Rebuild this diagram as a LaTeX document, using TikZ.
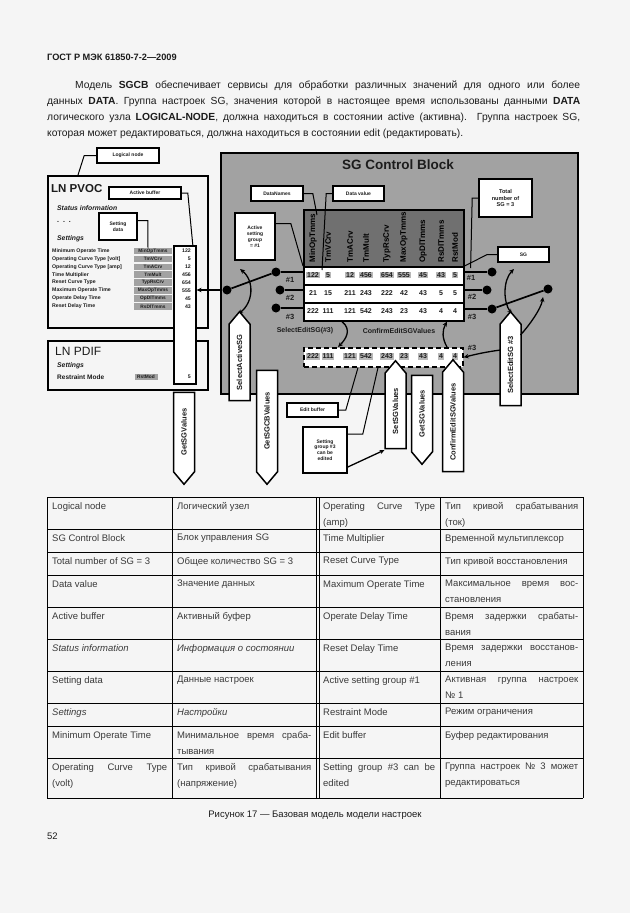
\documentclass[tikz,border=0pt]{standalone}
\usepackage{fontspec}
\setmainfont{Liberation Sans}
\setsansfont{Liberation Sans}
\usetikzlibrary{positioning, arrows.meta, calc, shapes.symbols}
\definecolor{clrpage}{HTML}{F5F5F5}
\definecolor{clrtext}{HTML}{1C1C1C}
\definecolor{clrtable}{HTML}{3A3A3A}
\definecolor{clrblock}{HTML}{A2A2A2}
\definecolor{clrheader}{HTML}{707070}
\definecolor{clrcell}{HTML}{B8B8B8}
\definecolor{clrborder}{HTML}{000000}

\begin{document}
\begin{tikzpicture}[
    x=1pt, y=-1pt,
    >=Stealth,
    every node/.style={font=\sffamily, text=clrtext},
    frame/.style={draw=clrborder, line width=1.5pt, minimum width=160pt, anchor=north west, inner sep=0},
    callout/.style={draw=clrborder, fill=white, line width=1.6pt, inner sep=0.5pt, align=center,
                    font=\sffamily\bfseries\fontsize{5}{5.8}\selectfont},
    leader/.style={draw=clrborder, line width=1pt},
    wire/.style={draw=clrborder, line width=1.7pt},
    flow/.style={->, draw=clrborder, line width=1.3pt, >={Stealth[length=5pt, width=4.5pt]}},
    twoway/.style={flow, <->},
    pivot/.style={circle, fill=clrborder, inner sep=0, minimum size=9pt},
    svc/.style={shape=signal, draw=clrborder, fill=white, line width=1.5pt, rotate=90,
                minimum height=21pt, inner sep=1pt, signal pointer angle=80,
                font=\sffamily\bfseries\fontsize{7.5}{8}\selectfont},
    svcup/.style={svc, signal to=east},
    svcdown/.style={svc, signal to=west},
    sgrow/.style={draw=clrborder, fill=white, line width=1.6pt, minimum width=160pt,
                  minimum height=18pt, inner sep=0, anchor=north west},
    val/.style={inner sep=1pt, font=\sffamily\bfseries\fontsize{7}{8}\selectfont},
    valact/.style={val, fill=clrcell},
    dname/.style={rotate=90, anchor=west, inner sep=0.5pt, text=black,
                  font=\sffamily\bfseries\fontsize{8}{9}\selectfont},
    sgnum/.style={inner sep=0, font=\sffamily\bfseries\fontsize{7.5}{8}\selectfont},
    cmdlabel/.style={inner sep=0, font=\sffamily\bfseries\fontsize{7}{8}\selectfont},
    pvlbl/.style={anchor=west, inner sep=0, font=\sffamily\bfseries\fontsize{5.2}{6}\selectfont},
    pvdn/.style={fill=clrblock, minimum width=38pt, minimum height=6.6pt, inner sep=0,
                 font=\sffamily\bfseries\fontsize{4.8}{5}\selectfont},
    pvval/.style={anchor=east, inner sep=0, font=\sffamily\bfseries\fontsize{5.2}{6}\selectfont},
    pvhead/.style={anchor=west, inner sep=0, font=\sffamily\bfseries\itshape\fontsize{6.8}{8}\selectfont},
    tabline/.style={draw=clrborder, line width=0.7pt},
    cell/.style={anchor=north west, inner sep=0, align=justify, text=clrtable,
                 font=\sffamily\fontsize{9.5}{16}\selectfont},
]
\fill[clrpage] (0,0) rectangle (630,913);
\useasboundingbox (0,0) rectangle (630,913);

% page head and text
\node[anchor=west, inner sep=0, font=\sffamily\bfseries\fontsize{9.2}{11}\selectfont] (page_head) at (47,57) {ГОСТ Р МЭК 61850-7-2—2009};
\node[anchor=north west, inner sep=0, align=left, font=\sffamily\fontsize{10.3}{16}\selectfont] (page_text) at (47,81) {%
\hbox to 533pt{\hspace*{28pt}Модель \textbf{SGCB} обеспечивает сервисы для обработки различных значений для одного или более}\\
\hbox to 533pt{данных \textbf{DATA}. Группа настроек SG, значения которой в настоящее время использованы данными \textbf{DATA}}\\
\hbox to 533pt{логического узла \textbf{LOGICAL-NODE}, должна находиться в состоянии active (активна). Группа настроек SG,}\\
которая может редактироваться, должна находиться в состоянии edit (редактировать).};

% logical nodes
\node[frame, minimum height=152pt] (ln_pvoc) at (47,175) {};
\node[frame, minimum height=49pt] (ln_pdif) at (47,340) {};
\node[anchor=west, inner sep=0, font=\sffamily\bfseries\fontsize{11.5}{12}\selectfont] (pvoc_title) at (51,189) {LN PVOC};
\node[pvhead] (pvoc_status) at (57,208) {Status information};
\node[pvhead, font=\sffamily\bfseries\fontsize{7}{8}\selectfont] (pvoc_dots) at (57,222) {.\ \ .\ \ .};
\node[pvhead] (pvoc_settings) at (57,239) {Settings};
\node[draw=clrborder, fill=white, line width=1.6pt, minimum width=22pt, minimum height=138pt,
      anchor=north west, inner sep=0] (buf_active) at (173,245) {};
\foreach \lbl/\dn/\val [count=\i from 0] in {Minimum Operate Time/MinOpTmms/122,
    Operating Curve Type [volt]/TmVCrv/5, Operating Curve Type [amp]/TmACrv/12,
    Time Multiplier/TmMult/456, Reset Curve Type/TypRsCrv/654, Maximum Operate Time/MaxOpTmms/555,
    Operate Delay Time/OpDlTmms/45, Reset Delay Time/RsDlTmms/43} {
  \node[pvlbl] (pv_lbl_\i) at (52,{251+7.9*\i}) {\lbl};
  \node[pvdn] (pv_dn_\i) at (153,{251+7.9*\i}) {\dn};
  \node[pvval] (pv_val_\i) at (191,{251+7.9*\i}) {\val};
}
\node[anchor=west, inner sep=0, font=\sffamily\fontsize{12}{13}\selectfont] (pdif_title) at (55,351) {LN PDIF};
\node[pvhead] (pdif_settings) at (57,366) {Settings};
\node[pvlbl, font=\sffamily\bfseries\fontsize{6.5}{7}\selectfont] (pdif_lbl) at (57,377) {Restraint Mode};
\node[pvdn, minimum width=23pt] (pdif_dn) at (146,377) {RstMod};
\node[pvval] (pdif_val) at (191,377) {5};

\node[callout, minimum width=62pt, minimum height=15pt] (lbl_logical) at (128,155.5) {Logical node};
\draw[leader] (lbl_logical.west) -- ++(-12,0) -- ([xshift=31pt]ln_pvoc.north west);
\node[callout, minimum width=72pt, minimum height=12pt] (lbl_active) at (145,193) {Active buffer};
\draw[leader] (lbl_active.east) -- ++(6,0) -- ([xshift=8pt]buf_active.north);
\node[callout, minimum width=38pt, minimum height=27pt] (lbl_setdata) at (118,226.5) {Setting\\data};
\draw[leader] ([yshift=6pt]lbl_setdata.east) -- ++(10,0) -- ([xshift=-5pt]pv_dn_0.north);

% SG control block
\node[draw=clrborder, fill=clrblock, line width=1.8pt, minimum width=357pt, minimum height=241pt,
      anchor=north west, inner sep=0] (sgcb) at (220,152) {};
\node[inner sep=0, font=\sffamily\bfseries\fontsize{13.5}{14}\selectfont] (sgcb_title) at (398,165) {SG Control Block};
\node[draw=clrborder, fill=clrheader, line width=1.6pt, minimum width=160pt, minimum height=57pt,
      anchor=north west, inner sep=0] (sg_names) at (303,209) {};
\node[sgrow] (sg_row_1) at (303,266) {};
\node[sgrow] (sg_row_2) at (303,284) {};
\node[sgrow] (sg_row_3) at (303,302) {};
\node[sgrow, dash pattern=on 5pt off 3pt, minimum width=159pt, minimum height=19pt] (sg_edit) at (303,347) {};
\foreach \x/\dn/\va/\vb/\vc [count=\i] in {313/MinOpTmms/122/21/222, 328/TmVCrv/5/15/111,
    350/TmACrv/12/211/121, 366/TmMult/456/243/542, 387/TypRsCrv/654/222/243,
    404/MaxOpTmms/555/42/23, 423/OpDlTmms/45/43/43, 441/RsDlTmms/43/5/4, 455/RstMod/5/5/4} {
  \node[dname] (dn_\i) at (\x,263) {\dn};
  \node[valact] (v1_\i) at (\x,275) {\va};
  \node[val] (v2_\i) at (\x,293) {\vb};
  \node[val] (v3_\i) at (\x,311) {\vc};
  \node[valact] (ve_\i) at (\x,356.5) {\vc};
}
\node[sgnum] (num_l1) at (290,280) {\#1};
\node[sgnum] (num_l2) at (290,298) {\#2};
\node[sgnum] (num_l3) at (290,317) {\#3};
\node[sgnum] (num_r1) at (471,278) {\#1};
\node[sgnum] (num_r2) at (472,297) {\#2};
\node[sgnum] (num_r3) at (472,317) {\#3};
\node[sgnum] (num_e3) at (472,348) {\#3};

% switches
\node[pivot] (sw_l1) at (276,272) {};
\node[pivot] (sw_l2) at (280,290) {};
\node[pivot] (sw_l3) at (276,308) {};
\node[pivot] (piv_l) at (227,290) {};
\draw[wire] (sw_l1) -- (sg_row_1.west |- sw_l1);
\draw[wire] (sw_l2) -- (sg_row_2.west |- sw_l2);
\draw[wire] (sw_l3) -- (sg_row_3.west |- sw_l3);
\draw[wire] (piv_l) -- (sw_l1);
\draw[flow, line width=1.7pt] (piv_l) -- (buf_active.east |- piv_l);
\coordinate (arc_l_a) at (240,269);
\coordinate (arc_l_b) at (238,314);
\draw[twoway] (arc_l_a) .. controls (255,281) and (253,303) .. (arc_l_b);

\node[pivot] (sw_r1) at (492,272) {};
\node[pivot] (sw_r2) at (487,290) {};
\node[pivot] (sw_r3) at (492,309) {};
\node[pivot] (piv_r) at (548,289) {};
\draw[wire] (sg_row_1.east |- sw_r1) -- (sw_r1);
\draw[wire] (sg_row_2.east |- sw_r2) -- (sw_r2);
\draw[wire] (sg_row_3.east |- sw_r3) -- (sw_r3);
\draw[wire] (piv_r) -- (sw_r3);
\coordinate (arc_r_a) at (514,269);
\coordinate (arc_r_b) at (512,314);
\draw[twoway] (arc_r_a) .. controls (503,280) and (503,302) .. (arc_r_b);

% callouts in the block
\node[callout, minimum width=40pt, minimum height=47pt] (lbl_actgrp) at (255,236.5) {Active\\setting\\group\\= \#1};
\draw[leader] ([yshift=13pt]lbl_actgrp.east) -- ++(15,0) -- (sg_row_1.north west);
\node[callout, minimum width=52pt, minimum height=15pt] (lbl_dnames) at (277,193.5) {DataNames};
\draw[leader] (lbl_dnames.east) -- ++(9,0) -- ($(sg_names.north west)+(14,6)$);
\node[callout, minimum width=51pt, minimum height=15pt] (lbl_dvalue) at (358.5,193.5) {Data value};
\draw[leader] (lbl_dvalue.west) -- ++(-6,0) -- ($(sg_row_1.north west)+(19,4)$);
\node[callout, minimum width=53pt, minimum height=38pt, font=\sffamily\bfseries\fontsize{5.6}{6.6}\selectfont] (lbl_total) at (505.5,198) {Total\\number of\\SG = 3};
\draw[leader] (lbl_total.west) -- ++(-6,0) -- ($(sg_row_1.north east)+(6,2)$);
\node[callout, minimum width=51pt, minimum height=15pt] (lbl_sg) at (523.5,254.5) {SG};
\draw[leader] (lbl_sg.west) -- ++(-10,0) -- (sg_row_1.north east);

% edit buffer transfers
\draw[flow] ([xshift=39pt]sg_row_3.south west) .. controls +(10,8) and +(8,-8) .. ([xshift=35pt]sg_edit.north west);
\draw[flow] ([xshift=144pt]sg_edit.north west) .. controls +(-5,-9) and +(-5,9) .. ([xshift=144pt]sg_row_3.south west);
\node[cmdlabel] (lbl_selcmd) at (305,331) {SelectEditSG(\#3)};
\node[cmdlabel] (lbl_confcmd) at (399,331) {ConfirmEditSGValues};

% services
\node[svcdown, minimum width=92pt] (svc_getsg_1) at (184,432) {GetSGValues};
\node[svcup, minimum width=89pt] (svc_selact) at (239.5,362.5) {SelectActiveSG};
\node[svcdown, minimum width=114pt] (svc_getsgcb) at (267,421) {GetSGCBValues};
\node[svcup, minimum width=88pt] (svc_setsg) at (395.5,411) {SetSGValues};
\node[svcdown, minimum width=89pt] (svc_getsg_2) at (422,413.5) {GetSGValues};
\node[svcup, minimum width=112pt] (svc_confirm) at (453,422) {ConfirmEditSGValues};
\node[svcup, minimum width=94pt] (svc_seledit) at (510.5,365) {SelectEditSG \#3};
\draw[flow] ($(svc_seledit.center)+(10,-30)$) .. controls +(9,-10) and +(-2,12) .. ($(piv_r)+(-5,8)$);
\draw[flow] ($(svc_seledit.center)+(-10,-15)$) .. controls +(-15,2) and +(12,-3) .. (sg_edit.east);

% callouts below the block
\node[callout, minimum width=51pt, minimum height=14pt] (lbl_editbuf) at (312.5,410) {Edit buffer};
\draw[leader] (lbl_editbuf.east) -- ++(7,0) -- ($(sg_edit.south west)+(55,0)$);
\node[callout, minimum width=44pt, minimum height=46pt] (lbl_canedit) at (325,450) {Setting\\group \#3\\can be\\edited};
\draw[leader] ([yshift=16pt]lbl_canedit.east) -- ++(15,0) -- ($(sg_edit.south west)+(75,0)$);
\draw[flow] ([yshift=-17pt]lbl_canedit.east) -- ($(svc_setsg.center)+(-11,39)$);

% table
\foreach \y in {497,529,552,575,607,639,671,703,726,758,798}
  \draw[tabline] (47,\y) -- (583,\y);
\foreach \x in {47,172,316,319,440,583}
  \draw[tabline] (\x,497) -- (\x,798);
\foreach \y/\ca/\cb/\cc/\cd [count=\r] in {
    497/Logical node/Логический узел/Operating Curve Type\linebreak (amp)/Тип кривой срабатывания\linebreak (ток),
    529/SG Control Block/Блок управления SG/Time Multiplier/Временной мультиплексор,
    552/Total number of SG = 3/Общее количество SG = 3/Reset Curve Type/Тип кривой восстановления,
    575/Data value/Значение данных/Maximum Operate Time/Максимальное время вос-\linebreak становления,
    607/Active buffer/Активный буфер/Operate Delay Time/Время задержки срабаты-\linebreak вания,
    639/\textit{Status information}/\textit{Информация о состоянии}/Reset Delay Time/Время задержки восстанов-\linebreak ления,
    671/Setting data/Данные настроек/Active setting group \#1/Активная группа настроек\linebreak № 1,
    703/\textit{Settings}/\textit{Настройки}/Restraint Mode/Режим ограничения,
    726/Minimum Operate Time/Минимальное время сраба-\linebreak тывания/Edit buffer/Буфер редактирования,
    758/Operating Curve Type\linebreak (volt)/Тип кривой срабатывания\linebreak (напряжение)/Setting group \#3 can be\linebreak edited/Группа настроек № 3 может\linebreak редактироваться} {
  \node[cell, text width=115pt] (t_\r_a) at (52,\y+5) {\ca};
  \node[cell, text width=134pt] (t_\r_b) at (177,\y+5) {\cb};
  \node[cell, text width=112pt] (t_\r_c) at (323,\y+5) {\cc};
  \node[cell, text width=133pt] (t_\r_d) at (445,\y+5) {\cd};
}
\node[inner sep=0, font=\sffamily\fontsize{9.5}{11}\selectfont] (caption) at (315,815) {Рисунок 17 — Базовая модель модели настроек};
\node[anchor=west, inner sep=0, font=\sffamily\fontsize{9.5}{11}\selectfont] (page_num) at (47,836) {52};
\end{tikzpicture}
\end{document}
